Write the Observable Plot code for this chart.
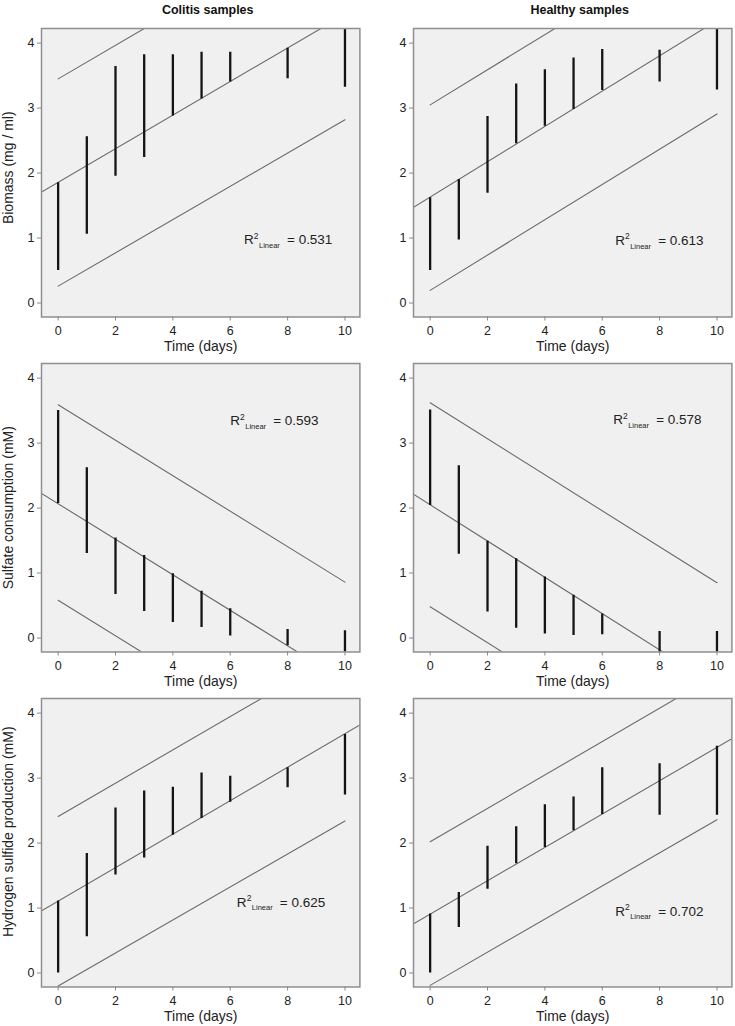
<!DOCTYPE html>
<html><head><meta charset="utf-8">
<script src="https://cdn.jsdelivr.net/npm/d3@7"></script>
<script src="https://cdn.jsdelivr.net/npm/@observablehq/plot@0.6"></script>
<style>
body{margin:0;background:#fff;}
#chart{position:relative;width:735px;height:1026px;overflow:hidden;font-family:"Liberation Sans",Arial,sans-serif;}
#chart svg{position:absolute;}
#chart svg g[aria-label*="tick label"]{font-size:12.5px !important;}
</style></head><body><div id="chart"></div>
<script>
// ---- data ----
const days = [0, 1, 2, 3, 4, 5, 6, 8, 10];
const xTicks = [0, 2, 4, 6, 8, 10];
const yTicks = [0, 1, 2, 3, 4];
const groups = ["Colitis samples", "Healthy samples"];
const measures = ["Biomass (mg / ml)", "Sulfate consumption (mM)", "Hydrogen sulfide production (mM)"];
const xLabel = "Time (days)";

// range of measured values at each day (min, max)
const bioColLow  = [0.50, 1.06, 1.95, 2.24, 2.88, 3.14, 3.40, 3.45, 3.32];
const bioColHigh = [1.85, 2.56, 3.64, 3.82, 3.82, 3.86, 3.86, 3.92, 4.30];
const bioHeaLow  = [0.50, 0.97, 1.69, 2.45, 2.72, 2.98, 3.27, 3.40, 3.28];
const bioHeaHigh = [1.62, 1.90, 2.87, 3.37, 3.59, 3.77, 3.90, 3.89, 4.30];
const sulColLow  = [2.07, 1.30, 0.67, 0.41, 0.24, 0.16, 0.03, -0.12, -0.30];
const sulColHigh = [3.50, 2.62, 1.54, 1.27, 0.99, 0.72, 0.45, 0.13, 0.11];
const sulHeaLow  = [2.04, 1.29, 0.40, 0.15, 0.06, 0.04, 0.05, -0.30, -0.30];
const sulHeaHigh = [3.51, 2.65, 1.49, 1.22, 0.94, 0.66, 0.37, 0.10, 0.10];
const h2sColLow  = [0.00, 0.56, 1.51, 1.77, 2.12, 2.38, 2.63, 2.85, 2.74];
const h2sColHigh = [1.11, 1.84, 2.54, 2.80, 2.86, 3.08, 3.03, 3.16, 3.67];
const h2sHeaLow  = [0.00, 0.70, 1.29, 1.68, 1.93, 2.19, 2.44, 2.43, 2.43];
const h2sHeaHigh = [0.91, 1.24, 1.95, 2.25, 2.59, 2.71, 3.16, 3.22, 3.49];

// linear fit line, read at x = -1 and x = 11 (clipped to the frame)
const fitX = [-1, 11];
const bioColFit = [1.60, 4.70];
const bioHeaFit = [1.36, 4.62];
const sulColFit = [2.34, -0.94];
const sulHeaFit = [2.33, -1.02];
const h2sColFit = [0.85, 3.94];
const h2sHeaFit = [0.65, 3.73];

// prediction interval lines, read at x = 0 and x = 10
const bandX = [0, 10];
const bioColUpper = [3.45, 6.03], bioColLower = [0.26, 2.82];
const bioHeaUpper = [3.05, 5.75], bioHeaLower = [0.195, 2.91];
const sulColUpper = [3.59, 0.86], sulColLower = [0.58, -2.15];
const sulHeaUpper = [3.62, 0.85], sulHeaLower = [0.48, -2.28];
const h2sColUpper = [2.41, 4.97], h2sColLower = [-0.20, 2.34];
const h2sHeaUpper = [2.02, 4.59], h2sHeaLower = [-0.19, 2.36];

// R² annotations
const r2Values = ["0.531", "0.613", "0.593", "0.578", "0.625", "0.702"];
const r2X = [6.48, 6.45, 6.00, 6.38, 6.23, 6.45];
const r2Y = [0.97, 0.96, 3.34, 3.36, 1.09, 0.95];

// ---- panel assembly ----
const panels = [
  {low: bioColLow, high: bioColHigh, fit: bioColFit, up: bioColUpper, lo: bioColLower},
  {low: bioHeaLow, high: bioHeaHigh, fit: bioHeaFit, up: bioHeaUpper, lo: bioHeaLower},
  {low: sulColLow, high: sulColHigh, fit: sulColFit, up: sulColUpper, lo: sulColLower},
  {low: sulHeaLow, high: sulHeaHigh, fit: sulHeaFit, up: sulHeaUpper, lo: sulHeaLower},
  {low: h2sColLow, high: h2sColHigh, fit: h2sColFit, up: h2sColUpper, lo: h2sColLower},
  {low: h2sHeaLow, high: h2sHeaHigh, fit: h2sHeaFit, up: h2sHeaUpper, lo: h2sHeaLower}
];

const colLeft = [41, 413.3];
const rowTop = [28, 362.7, 698.3];
const frameW = 318.4, frameH = 288.5;
const mL = 41, mR = 4, mT = 28, mB = 42;
const yLabelDy = [-5, 0, -11];
const lineColor = "#6a6a6a";
const textColor = "#222";
const chart = document.getElementById("chart");

panels.forEach((p, i) => {
  const row = Math.floor(i / 2), col = i % 2;
  const segs = days.map((d, j) => ({day: d, low: p.low[j], high: p.high[j]}));
  const fitLine = fitX.map((x, j) => ({x, y: p.fit[j]}));
  const upLine = bandX.map((x, j) => ({x, y: p.up[j]}));
  const loLine = bandX.map((x, j) => ({x, y: p.lo[j]}));
  const r2 = [{x: r2X[i], y: r2Y[i], v: r2Values[i]}];
  const marks = [
    Plot.frame({fill: "#f0f0f0", stroke: "none"}),
    Plot.line(fitLine, {x: "x", y: "y", stroke: lineColor, strokeWidth: 1.1, clip: true}),
    Plot.line(upLine, {x: "x", y: "y", stroke: lineColor, strokeWidth: 1.1, clip: true}),
    Plot.line(loLine, {x: "x", y: "y", stroke: lineColor, strokeWidth: 1.1, clip: true}),
    Plot.ruleX(segs, {x: "day", y1: "low", y2: "high", stroke: "#141414", strokeWidth: 2.3, clip: true}),
    Plot.frame({stroke: "#8f8f8f", strokeWidth: 1.5}),
    Plot.axisX(xTicks, {tickSize: 4, tickPadding: 5.5, fontSize: 12.5, stroke: "#888", fill: textColor, tickFormat: d => String(d), label: null}),
    Plot.axisY(yTicks, {tickSize: 4, tickPadding: 3, fontSize: 12.5, stroke: "#888", fill: textColor, tickFormat: d => String(d), label: null}),
    Plot.text([xLabel], {text: d => d, frameAnchor: "bottom", textAnchor: "middle", lineAnchor: "middle", dy: 29.5, fontSize: 14, fill: textColor}),
    Plot.text(r2, {x: "x", y: "y", text: () => "R", textAnchor: "start", fontSize: 13.5, fill: textColor}),
    Plot.text(r2, {x: "x", y: "y", text: () => "2", textAnchor: "start", dx: 9.8, dy: -3.9, fontSize: 8.5, fill: textColor}),
    Plot.text(r2, {x: "x", y: "y", text: () => "Linear", textAnchor: "start", dx: 15, dy: 5.6, fontSize: 7.5, fill: textColor}),
    Plot.text(r2, {x: "x", y: "y", text: d => "= " + d.v, textAnchor: "start", dx: 43, fontSize: 13.5, fill: textColor})
  ];
  if (col === 0) {
    marks.push(Plot.text([measures[row]], {text: d => d, frameAnchor: "left", textAnchor: "middle", lineAnchor: "middle", rotate: -90, dx: -32.5, dy: yLabelDy[row], fontSize: 14, fill: textColor}));
  }
  if (row === 0) {
    marks.push(Plot.text([groups[col]], {text: d => d, frameAnchor: "top", textAnchor: "middle", lineAnchor: "middle", dx: 7, dy: -18.7, fontSize: 12.5, fontWeight: "bold", fill: "#111"}));
  }
  const svg = Plot.plot({
    width: mL + frameW + mR,
    height: mT + frameH + mB,
    marginLeft: mL, marginRight: mR, marginTop: mT, marginBottom: mB,
    style: {background: "none", overflow: "visible", fontSize: "12.5px", fontFamily: "'Liberation Sans', Arial, sans-serif"},
    x: {domain: [-0.58, 10.52]},
    y: {domain: [-0.215, 4.225]},
    marks
  });
  svg.style.position = "absolute";
  svg.style.left = (colLeft[col] - mL) + "px";
  svg.style.top = (rowTop[row] - mT) + "px";
  svg.style.maxWidth = "none";
  chart.appendChild(svg);
});
</script></body></html>
